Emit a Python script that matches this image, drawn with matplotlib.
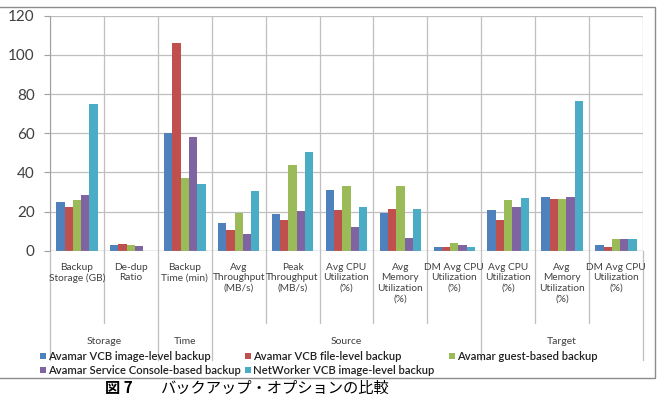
import matplotlib
matplotlib.use("Agg")
import matplotlib.pyplot as plt
from matplotlib.patches import Rectangle
from matplotlib.lines import Line2D
import numpy as np

categories = ["Backup\nStorage (GB)", "De-dup\nRatio", "Backup\nTime (min)",
              "Avg\nThroughput\n(MB/s)", "Peak\nThroughput\n(MB/s)",
              "Avg CPU\nUtilization\n(%)", "Avg\nMemory\nUtilization\n(%)",
              "DM Avg CPU\nUtilization\n(%)", "Avg CPU\nUtilization\n(%)",
              "Avg\nMemory\nUtilization\n(%)", "DM Avg CPU\nUtilization\n(%)"]
groups = ["Storage", "Time", "Source", "Target"]
group_sizes = [2, 1, 5, 3]

series_names = ["Avamar VCB image-level backup", "Avamar VCB file-level backup",
                "Avamar guest-based backup", "Avamar Service Console-based backup",
                "NetWorker VCB image-level backup"]
vcb_image = [24.7, 2.9, 60.1, 14.0, 18.7, 30.8, 19.1, 1.9, 20.9, 27.6, 2.9]
vcb_file = [22.1, 3.4, 105.9, 10.4, 15.7, 20.9, 21.3, 1.9, 15.8, 26.6, 1.9]
guest = [25.9, 2.9, 37.1, 19.2, 43.7, 33.0, 33.0, 4.1, 26.0, 26.6, 5.8]
service_console = [28.3, 2.6, 58.0, 8.7, 20.1, 12.1, 6.6, 2.9, 22.1, 27.6, 5.8]
networker = [75.1, 0.0, 33.9, 30.5, 50.4, 22.1, 21.3, 1.9, 26.9, 76.4, 5.8]
y_ticks = [0, 20, 40, 60, 80, 100, 120]
caption_fig = "図 7"
caption_text = "バックアップ・オプションの比較"

colors = ["#4F81BD", "#C0504D", "#9BBB59", "#8064A2", "#4BACC6"]
series = [vcb_image, vcb_file, guest, service_console, networker]

W, H = 663, 396
fig = plt.figure(figsize=(W / 100, H / 100), dpi=100)
plt.rcParams['font.family'] = ['Lato', 'DejaVu Sans']

left_px, right_px, top_px, bot_px = 50, 643, 15.7, 250.7
ax = fig.add_axes([left_px / W, 1 - bot_px / H, (right_px - left_px) / W, (bot_px - top_px) / H])

n = len(categories)
x = np.arange(n) + 0.5
bw = 1 / 6.5
for j, (vals, c) in enumerate(zip(series, colors)):
    ax.bar(x + (j - 2) * bw, vals, width=bw, color=c, linewidth=0, zorder=3)

ax.set_xlim(0, n)
ax.set_ylim(0, 120)
ax.set_yticks(y_ticks)
ax.set_yticklabels([str(t) for t in y_ticks], fontsize=11, color="#404040")
ax.tick_params(axis='y', length=4, width=0.8, color="#A0A0A0", pad=7)
ax.set_xticks([])
grid_c = "#BFBFBF"
for t in y_ticks:
    ax.axhline(t, color=grid_c, lw=0.9, zorder=1)
for i in range(n + 1):
    ax.axvline(i, color=grid_c, lw=0.9, zorder=1)
for s in ax.spines.values():
    s.set_visible(False)
ax.spines['left'].set_visible(True)
ax.spines['left'].set_color("#A0A0A0")
ax.axhline(0, color="#A0A0A0", lw=0.9, zorder=4)

axh = bot_px - top_px
def yf(px):
    return (bot_px - px) / axh

tr = ax.get_xaxis_transform()
for i, lab in enumerate(categories):
    ax.text(x[i], yf(263), lab, transform=tr, ha='center', va='top',
            fontsize=7.3, color="#404040", linespacing=1.2)

bounds = np.cumsum([0] + group_sizes)
for i in range(n + 1):
    end = 360 if i in bounds else 323
    ax.add_line(Line2D([i, i], [yf(bot_px), yf(end)], transform=tr,
                       color="#BFBFBF", lw=0.9, clip_on=False))
for g, a, b in zip(groups, bounds[:-1], bounds[1:]):
    ax.text((a + b) / 2, yf(342), g, transform=tr, ha='center', va='center',
            fontsize=7.5, color="#404040")

# legend (manual)
leg_pos = [(43, 356), (248, 356), (452, 356), (43, 370), (248, 370)]
for (px, py), name, c in zip(leg_pos, series_names, colors):
    fig.add_artist(Rectangle((px / W - 3 / W, 1 - (py + 3) / H), 6 / W, 6 / H,
                             transform=fig.transFigure, color=c, lw=0))
    fig.text((px + 5) / W, 1 - py / H, name, fontsize=8.1, color="#202020",
             fontweight='semibold', va='center', ha='left')

# chart border
fig.add_artist(Rectangle((-0.01, 1 - 378 / H), 655 / W + 0.01, (378 - 7) / H,
                         transform=fig.transFigure, fill=False, ec="#8C8C8C", lw=1))

fig.text(105 / W, 1 - 388 / H, caption_fig, fontsize=11, fontweight='bold',
         family=['Noto Sans CJK JP', 'DejaVu Sans'], va='center', ha='left')
fig.text(160 / W, 1 - 388 / H, caption_text, fontsize=11,
         family=['Noto Sans CJK JP', 'DejaVu Sans'], va='center', ha='left')

fig.savefig("out.png", dpi=100)
